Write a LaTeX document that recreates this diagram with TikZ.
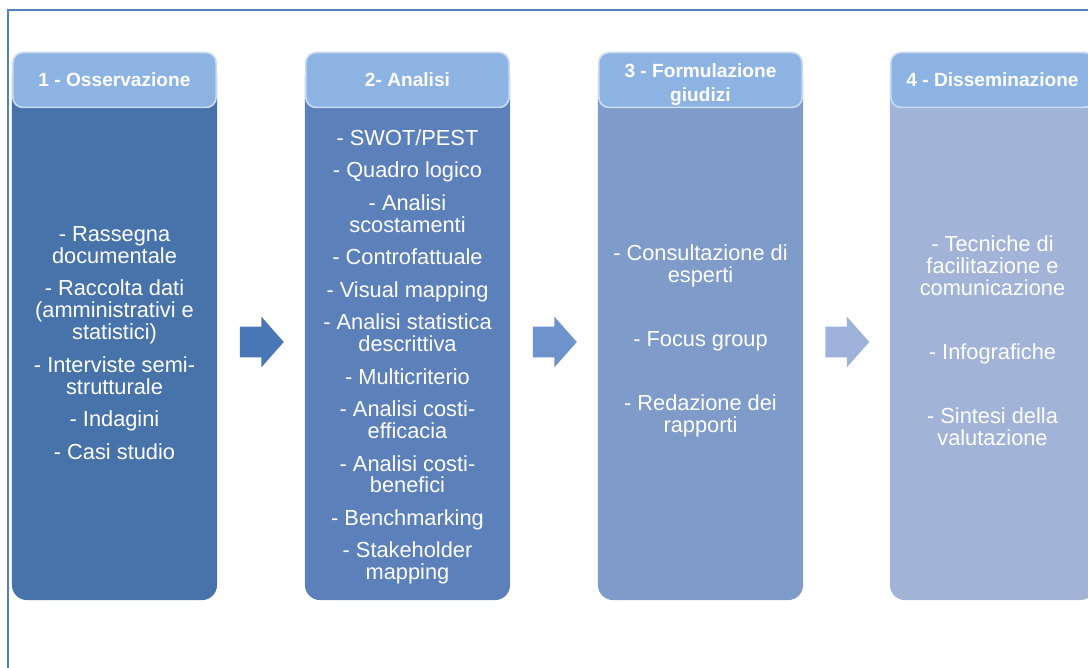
\documentclass[tikz,border=0pt]{standalone}
\usepackage{fontspec}
\setmainfont{Liberation Sans}
\usetikzlibrary{shapes.arrows}
\definecolor{framecol}{HTML}{4F81BD}
\definecolor{headfill}{HTML}{8DB3E2}
\definecolor{headline}{HTML}{C9DBF1}
\definecolor{boxa}{HTML}{4773AA}
\definecolor{boxb}{HTML}{5C81BA}
\definecolor{boxc}{HTML}{7F9BC9}
\definecolor{boxd}{HTML}{A1B3D6}
\definecolor{arra}{HTML}{4977B5}
\definecolor{arrb}{HTML}{6E92CB}
\definecolor{arrc}{HTML}{9EB2D9}

\begin{document}
\begin{tikzpicture}[x=0.025cm,y=-0.025cm,
	body/.style={rounded corners=0.375cm, minimum width=5.125cm, minimum height=13.5cm, inner sep=0pt},
	head/.style={draw=headline, line width=1.2pt, fill=headfill, rounded corners=0.25cm, minimum width=5.08cm, minimum height=1.37cm, inner sep=0pt, text=white, align=center, font=\fontsize{13.6}{17}\selectfont\bfseries},
	items/.style={text=white, align=center, inner sep=0pt, font=\fontsize{15.5}{15.6}\selectfont},
	flow/.style={single arrow, minimum width=1.25cm, minimum height=1.1cm, single arrow head extend=0.25cm, single arrow tip angle=97, inner xsep=0pt, inner ysep=0.375cm}]
	\clip (0,0) rectangle (1088,668);
	\draw[framecol, line width=1.4pt] (8,10) rectangle (1200,800);

	\node[body, fill=boxa] (body1) at (114.5,330) {};
	\node[body, fill=boxb] (body2) at (407.5,330) {};
	\node[body, fill=boxc] (body3) at (700.5,330) {};
	\node[body, fill=boxd] (body4) at (992.5,330) {};

	\node[head] (head1) at (114.5,80) {1 - Osservazione};
	\node[head] (head2) at (407.5,80) {2- Analisi};
	\node[head] (head3) at (700.5,80) {\rule{0pt}{16pt}3 - Formulazione\\giudizi};
	\node[head] (head4) at (992.5,80) {4 - Disseminazione};

	\node[items] (txt1) at (114.5,343) {- Rassegna\\documentale\\[7.5pt]- Raccolta dati\\(amministrativi e\\statistici)\\[7.5pt]- Interviste semi-\\strutturale\\[7.5pt]- Indagini\\[7.5pt]- Casi studio};
	\node[items] (txt2) at (407.5,357) {- SWOT/PEST\\[7.5pt]- Quadro logico\\[7.5pt]- Analisi\\scostamenti\\[7.5pt]- Controfattuale\\[7.5pt]- Visual mapping\\[7.5pt]- Analisi statistica\\descrittiva\\[7.5pt]- Multicriterio\\[7.5pt]- Analisi costi-\\efficacia\\[7.5pt]- Analisi costi-\\benefici\\[7.5pt]- Benchmarking\\[7.5pt]- Stakeholder\\mapping};
	\node[items] (txt3) at (700.5,341) {- Consultazione di\\esperti\\[30pt]- Focus group\\[30pt]- Redazione dei\\rapporti};
	\node[items] (txt4) at (992.5,341) {- Tecniche di\\facilitazione e\\comunicazione\\[30pt]- Infografiche\\[30pt]- Sintesi della\\valutazione};

	\node[flow, fill=arra] (arr1) at (255,342) {};
	\node[flow, fill=arrb] (arr2) at (548,342) {};
	\node[flow, fill=arrc] (arr3) at (840.5,342) {};
\end{tikzpicture}
\end{document}
